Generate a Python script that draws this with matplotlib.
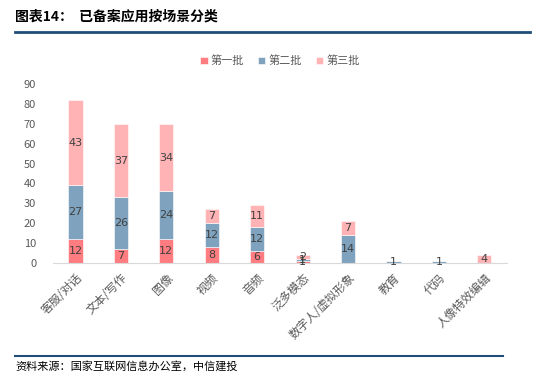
import numpy as np
import matplotlib
matplotlib.use("Agg")
from matplotlib import pyplot as plt
from matplotlib.lines import Line2D

plt.rcParams['font.family'] = ['Noto Sans CJK SC', 'DejaVu Sans']

categories = ['客服/对话', '文本/写作', '图像', '视频', '音频', '泛多模态',
              '数字人/虚拟形象', '教育', '代码', '人像特效编辑']
batch1 = [12, 7, 12, 8, 6, 1, 0, 0, 0, 0]
batch2 = [27, 26, 24, 12, 12, 1, 14, 1, 1, 0]
batch3 = [43, 37, 34, 7, 11, 2, 7, 0, 0, 4]
series_names = ['第一批', '第二批', '第三批']
colors = ['#FF7C80', '#7FA3BE', '#FFB3B5']


def main():
    fig = plt.figure(figsize=(5.5, 3.74), dpi=100)
    ax = fig.add_axes([0.096, 0.297, 0.826, 0.478])

    x = np.arange(len(categories))
    bottom = np.zeros(len(categories))
    for name, vals, c in zip(series_names, [batch1, batch2, batch3], colors):
        vals = np.array(vals, dtype=float)
        ax.bar(x, vals, 0.31, bottom=bottom, color=c, label=name,
               edgecolor='white', linewidth=0.4)
        for xi, b, v in zip(x, bottom, vals):
            if v > 0:
                ax.text(xi, b + v / 2, '%d' % v, ha='center', va='center',
                        fontsize=8, color='#404040', family='DejaVu Sans')
        bottom += vals

    ax.set_xlim(-0.5, len(categories) - 0.5)
    ax.set_ylim(0, 90)
    ax.set_yticks(range(0, 91, 10))
    ax.tick_params(axis='y', length=0, labelsize=8, labelcolor='#595959', pad=12)
    ax.tick_params(axis='x', length=0, pad=6)
    ax.set_xticks(x)
    ax.set_xticklabels(categories, rotation=45, ha='right', rotation_mode='anchor',
                       fontsize=8.5, color='#595959')
    for s in ['top', 'right', 'left']:
        ax.spines[s].set_visible(False)
    ax.spines['bottom'].set_color('#D9D9D9')

    leg = ax.legend(loc='center', bbox_to_anchor=(0.5, 1.13), ncol=3, frameon=False,
                    fontsize=8, handlelength=0.7, handleheight=0.7, handletextpad=0.3,
                    columnspacing=1.2)
    for t in leg.get_texts():
        t.set_color('#595959')

    # header and footer
    fig.text(15 / 550, 1 - 17 / 374, '图表14：  已备案应用按场景分类', fontsize=10,
             fontweight='bold', va='center', ha='left', color='black')
    fig.add_artist(Line2D([15 / 550, 530 / 550], [1 - 32 / 374] * 2,
                          color='#1F4E79', linewidth=2))
    fig.add_artist(Line2D([15 / 550, 503 / 550], [1 - 356 / 374] * 2,
                          color='#1F4E79', linewidth=1.5))
    fig.text(15 / 550, 1 - 366 / 374, '资料来源：国家互联网信息办公室，中信建投', fontsize=8,
             style='italic', va='center', ha='left', color='black')

    fig.savefig('out.png', dpi=100)


if __name__ == '__main__':
    main()
